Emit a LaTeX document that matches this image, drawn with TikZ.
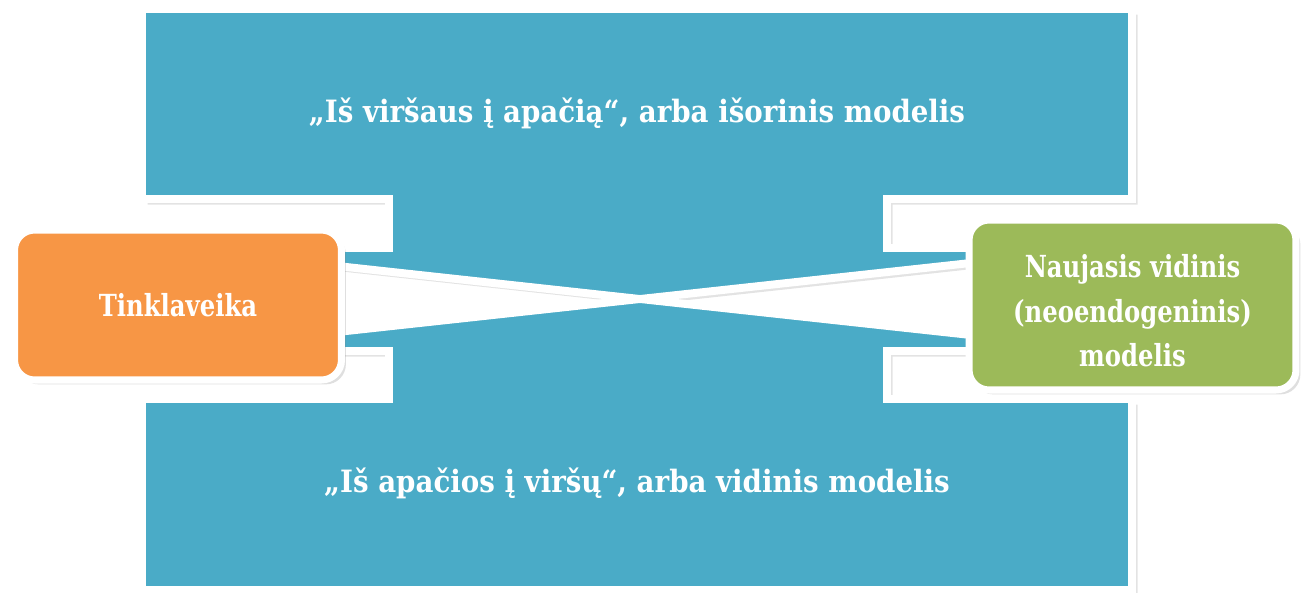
\documentclass[tikz,border=0pt]{standalone}
\usepackage{fontspec}
\setmainfont{DejaVu Serif}[FakeStretch=0.8]
\newfontfamily\widefont{DejaVu Serif}[FakeStretch=0.9]
\usepackage{tikz}
\usetikzlibrary{shadows}
\definecolor{ttaacc}{rgb}{0.29,0.67,0.78}
\definecolor{ffbbqq}{rgb}{0.97,0.59,0.27}
\definecolor{bbccqq}{rgb}{0.61,0.73,0.35}

\begin{document}
\begin{tikzpicture}[line join=miter,x=0.02cm,y=-0.02cm,
  blockshape/.style={fill=ttaacc,draw=white,line width=4.5pt,drop shadow={shadow xshift=3.2pt,shadow yshift=-3.2pt,opacity=0.22}},
  boxnode/.style={rectangle,rounded corners=0.4cm,draw=white,line width=4pt,minimum width=6.54cm,text=white,align=center,font=\bfseries\fontsize{17.3}{25.2}\selectfont,drop shadow={shadow xshift=2.5pt,shadow yshift=-2.5pt,opacity=0.25}},
  modeltext/.style={text=white,anchor=base,font=\widefont\bfseries\fontsize{17.5}{25.2}\selectfont}]
\useasboundingbox (0,0) rectangle (1308,592);
% upper block
\draw [blockshape] (142,9) -- (1132,9) -- (1132,199) -- (887,199) -- (887,248) -- (1000,248) -- (1000,259.8) -- (640,299) -- (320,264.1) -- (320,248) -- (389,248) -- (389,199) -- (142,199) -- cycle;
% lower block
\draw [blockshape] (142,590) -- (142,399) -- (389,399) -- (389,351) -- (320,351) -- (320,333.9) -- (640,299) -- (1000,338.2) -- (1000,351) -- (887,351) -- (887,399) -- (1132,399) -- (1132,590) -- cycle;
\node [modeltext] (isorinis) at (637,122.7) {„Iš viršaus į apačią“, arba išorinis modelis};
\node [modeltext] (vidinis) at (637,492.7) {„Iš apačios į viršų“, arba vidinis modelis};
% side boxes
\node [boxnode,fill=ffbbqq,minimum height=3cm] (tinkl) at (178,305) {Tinklaveika};
\node [boxnode,fill=bbccqq,minimum height=3.4cm,text height=70pt] (neoendo) at (1132.5,305) {Naujasis vidinis\\(neoendogeninis)\\modelis};
\end{tikzpicture}
\end{document}
